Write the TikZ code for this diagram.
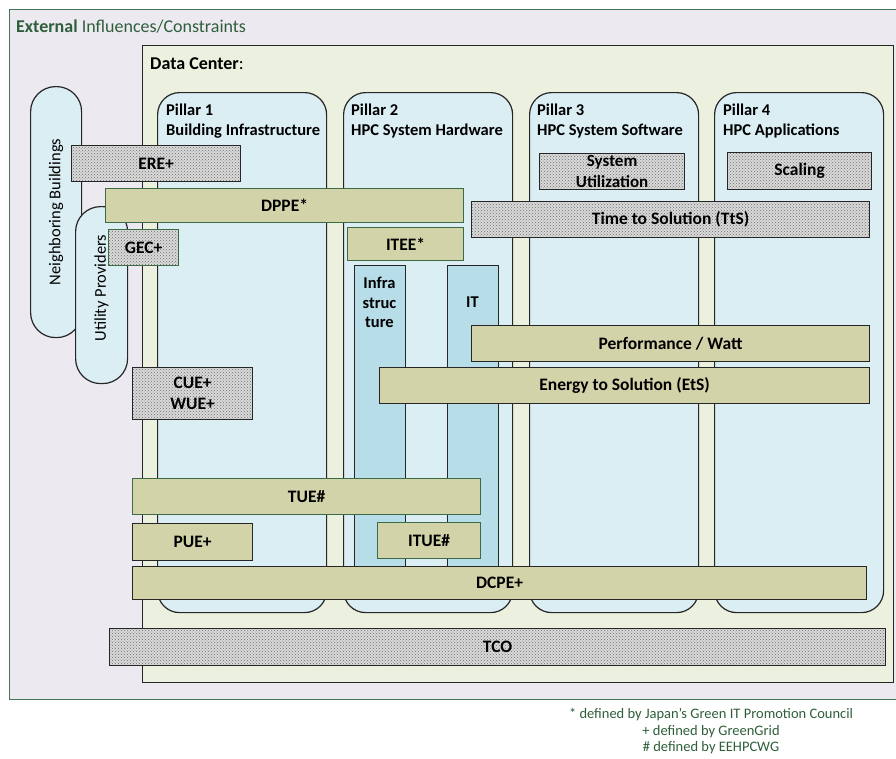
\documentclass[tikz,border=0pt]{standalone}
\usepackage{fontspec}
\setmainfont{Carlito}
\usetikzlibrary{patterns}

\definecolor{lavender}{HTML}{ECE9F1}
\definecolor{framegreen}{HTML}{44745A}
\definecolor{dcfill}{HTML}{EBF1DE}
\definecolor{pillarfill}{HTML}{DBEEF4}
\definecolor{colfill}{HTML}{B7DDE8}
\definecolor{olive}{HTML}{D3D3AA}
\definecolor{olivedge}{HTML}{3D6B47}
\definecolor{notegreen}{HTML}{2F5F3A}
\definecolor{dotbase}{HTML}{D9D9D9}
\definecolor{dotcol}{HTML}{6E6E6E}
\definecolor{edge}{HTML}{262626}

\tikzset{
  x=1pt, y=-1pt,
  lbl/.style={font=\fontsize{17.5}{20}\selectfont\bfseries},
  area/.style={rectangle, inner sep=0pt, anchor=north west, line width=1.2pt},
  pillar/.style={area, draw=edge, fill=pillarfill, rounded corners=22pt,
    minimum width=169pt, minimum height=520pt},
  pill/.style={area, draw=edge, fill=pillarfill, rounded corners=25pt},
  column/.style={area, draw=edge, fill=colfill, minimum width=51pt, minimum height=315pt},
  metric/.style={area, lbl, draw=edge, fill=olive, align=center},
  metricg/.style={metric, draw=olivedge},
  dotted box/.style={area, lbl, draw=edge, align=center,
    preaction={fill=dotbase}, pattern=crosshatch dots, pattern color=dotcol},
  dotted boxg/.style={dotted box, draw=olivedge},
  title/.style={inner sep=0pt, anchor=west, align=left, font=\fontsize{16.5}{20}\selectfont\bfseries},
  side/.style={rotate=90, inner sep=0pt, font=\fontsize{16.5}{18}\selectfont},
  note/.style={inner sep=0pt, text=notegreen, font=\fontsize{14.5}{16}\selectfont},
}

\begin{document}
\begin{tikzpicture}
\useasboundingbox (0,0) rectangle (896,758);
\clip (0,0) rectangle (896,758);
\fill[white] (0,0) rectangle (896,758);

% surroundings of the data center
\node[area, draw=framegreen, fill=lavender, minimum width=890pt, minimum height=690pt] (ext) at (9,9) {};
\node[inner sep=0pt, anchor=west, text=notegreen, font=\fontsize{18}{20}\selectfont] (exttitle) at (16,27)
  {\bfseries External\mdseries{} Influences/Constraints};

\node[pill, minimum width=51pt, minimum height=251pt] (nb) at (30,86) {};
\node[side] (nbtext) at (56,212) {Neighboring Buildings};
\node[pill, minimum width=52pt, minimum height=177pt] (up) at (75,206) {};
\node[side] (uptext) at (101.5,288) {Utility Providers};

% data center and its four pillars
\node[area, draw=edge, fill=dcfill, minimum width=751pt, minimum height=637pt] (dc) at (142,45) {};
\node[inner sep=0pt, anchor=west, font=\fontsize{18}{20}\selectfont] (dctitle) at (150,64) {\bfseries Data Center\mdseries:};

\node[pillar] (p1) at (157,92) {};
\node[pillar] (p2) at (343,92) {};
\node[pillar] (p3) at (529,92) {};
\node[pillar] (p4) at (714,92) {};
\node[title] (p1t) at (166,121.5) {Pillar 1\\Building Infrastructure};
\node[title] (p2t) at (351,121.5) {Pillar 2\\HPC System Hardware};
\node[title] (p3t) at (537,121.5) {Pillar 3\\HPC System Software};
\node[title] (p4t) at (723,121.5) {Pillar 4\\HPC Applications};

% hardware split into infrastructure and IT
\node[column] (infra) at (354,265) {};
\node[inner sep=0pt, align=center, anchor=north, font=\fontsize{16.5}{19.5}\selectfont\bfseries] (infratext) at (379.5,277) {Infra\\struc\\ture};
\node[column] (it) at (447,265) {};
\node[inner sep=0pt, font=\fontsize{16.5}{19.5}\selectfont\bfseries] (ittext) at (472.5,302) {IT};

% metrics
\node[dotted box, minimum width=169pt, minimum height=36pt] (ere) at (71,145) {ERE+};
\node[metricg, minimum width=358pt, minimum height=34pt] (dppe) at (105,188) {DPPE*};
\node[dotted boxg, minimum width=70pt, minimum height=36pt] (gec) at (108,229) {GEC+};
\node[metricg, minimum width=116pt, minimum height=33pt] (itee) at (347,227) {ITEE*};
\node[dotted box, minimum width=145pt, minimum height=36pt, font=\fontsize{17}{20.5}\selectfont\bfseries] (util) at (539,153) {System\\Utilization};
\node[dotted box, minimum width=144pt, minimum height=37pt] (scaling) at (727,152) {Scaling};
\node[dotted box, minimum width=398pt, minimum height=36pt] (tts) at (471,201) {Time to Solution (TtS)};
\node[metric, minimum width=398pt, minimum height=36pt] (perf) at (471,325) {Performance / Watt};
\node[metric, minimum width=490pt, minimum height=36pt] (ets) at (379,367) {Energy to Solution (EtS)};
\node[dotted box, minimum width=120pt, minimum height=52pt, font=\fontsize{17.5}{21}\selectfont\bfseries] (cue) at (132,367) {CUE+\\WUE+};
\node[metricg, minimum width=348pt, minimum height=36pt] (tue) at (132,478) {TUE\#};
\node[metric, minimum width=120pt, minimum height=37pt] (pue) at (132,523) {PUE+};
\node[metricg, minimum width=103pt, minimum height=36pt] (itue) at (377,522) {ITUE\#};
\node[metric, minimum width=734pt, minimum height=33pt] (dcpe) at (132,566) {DCPE+};
\node[dotted box, minimum width=776pt, minimum height=37pt] (tco) at (109,628) {TCO};

% footnotes
\node[note] (n1) at (711,715) {* defined by Japan’s Green IT Promotion Council};
\node[note] (n2) at (711,732) {+ defined by GreenGrid};
\node[note] (n3) at (711,748) {\# defined by EEHPCWG};
\end{tikzpicture}
\end{document}
